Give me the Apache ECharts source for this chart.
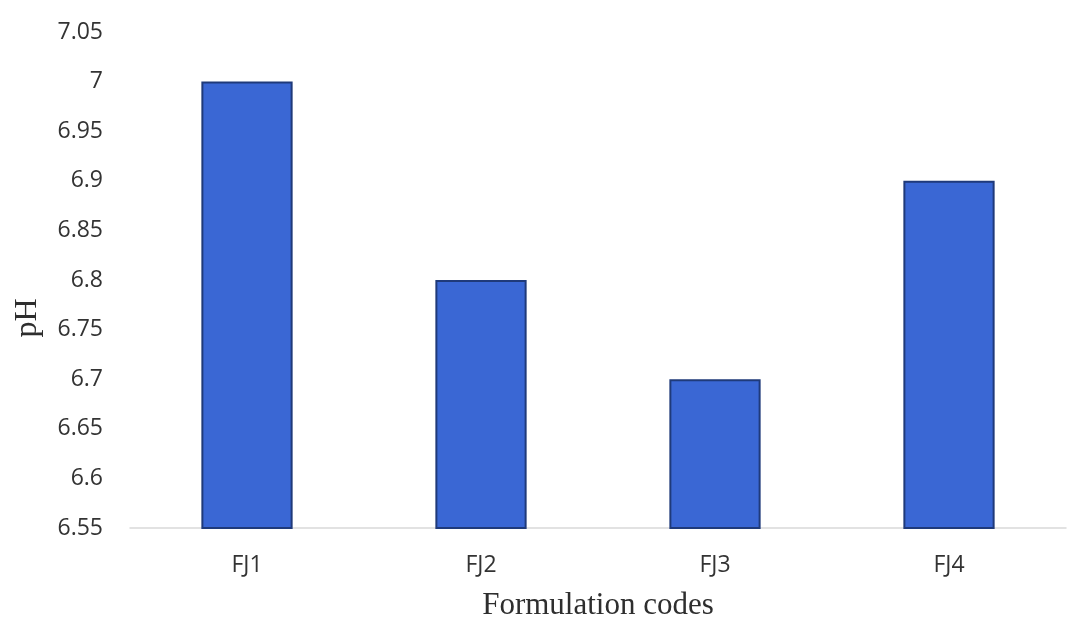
<!DOCTYPE html>
<html>
<head>
<meta charset="utf-8">
<script src="https://cdn.jsdelivr.net/npm/echarts@6/dist/echarts.min.js"></script>
<style>
  html, body { margin: 0; padding: 0; background: #ffffff; }
  #chart { width: 1078px; height: 622px; }
</style>
</head>
<body>
<div id="chart"></div>
<script>
// Formulation codes and their measured pH
const categories = ['FJ1', 'FJ2', 'FJ3', 'FJ4'];
const phValues = [7.0, 6.8, 6.7, 6.9];
const yMin = 6.55;
const yMax = 7.05;
const yStep = 0.05;

const labelFont = 'Open Sans, Liberation Sans, sans-serif';
const titleFont = 'Liberation Serif, DejaVu Serif, serif';

const chart = echarts.init(document.getElementById('chart'));
chart.setOption({
  backgroundColor: '#ffffff',
  animation: false,
  grid: { left: 130, right: 12, top: 32, bottom: 94, outerBoundsMode: 'none' },
  xAxis: {
    type: 'category',
    data: categories,
    axisLine: { show: true, lineStyle: { color: '#d9d9d9', width: 1.5 } },
    axisTick: { show: false },
    axisLabel: {
      color: '#333333',
      fontFamily: labelFont,
      fontSize: 23,
      margin: 26
    },
    name: 'Formulation codes',
    nameLocation: 'middle',
    nameGap: 62,
    nameTextStyle: {
      color: '#2e2e2e',
      fontFamily: titleFont,
      fontSize: 31
    }
  },
  yAxis: {
    type: 'value',
    min: yMin,
    max: yMax,
    interval: yStep,
    axisLine: { show: false },
    axisTick: { show: false },
    splitLine: { show: false },
    axisLabel: {
      color: '#333333',
      fontFamily: labelFont,
      fontSize: 23,
      margin: 27,
      formatter: v => String(parseFloat(v.toFixed(2)))
    }
  },
  graphic: [{
    // rotated y-axis title
    type: 'text',
    x: 28,
    y: 318,
    rotation: Math.PI / 2,
    style: {
      text: 'pH',
      fill: '#2e2e2e',
      font: '32px ' + titleFont,
      align: 'center',
      verticalAlign: 'middle'
    }
  }],
  series: [{
    type: 'bar',
    data: phValues,
    barWidth: '39%',
    itemStyle: {
      color: '#3a67d4',
      borderColor: '#1f3a7a',
      borderWidth: 2
    }
  }]
});
</script>
</body>
</html>
